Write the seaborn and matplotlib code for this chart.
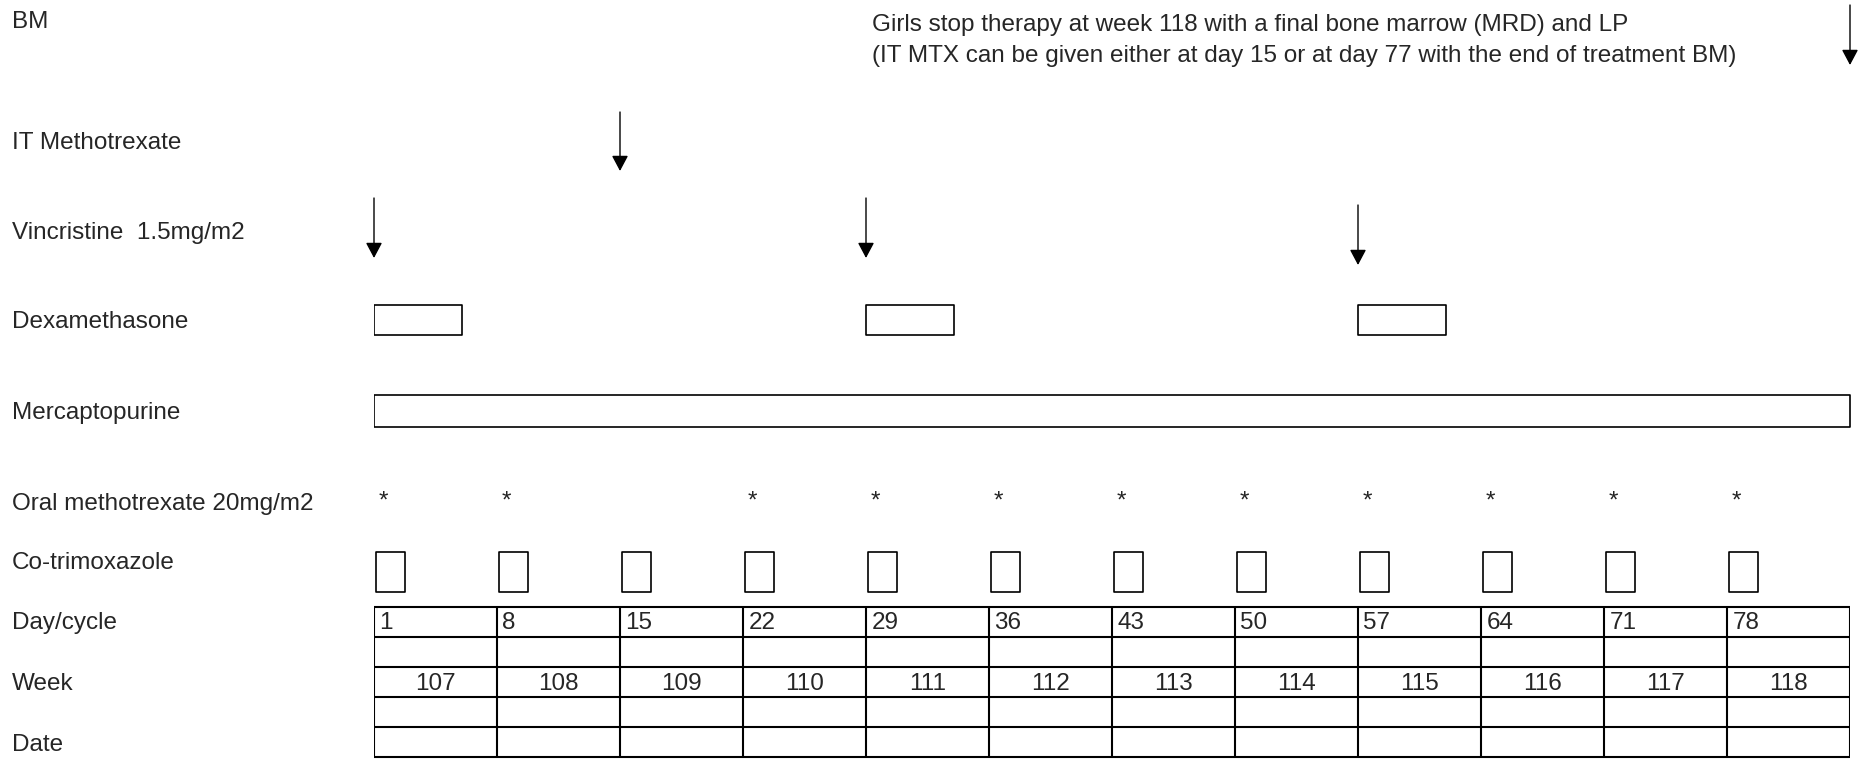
import matplotlib
matplotlib.use('Agg')
import matplotlib.pyplot as plt
import matplotlib.transforms as mtransforms
import seaborn as sns

# Schedule data (days of the cycle)
row_labels = ['BM', 'IT Methotrexate', 'Vincristine  1.5mg/m2', 'Dexamethasone',
              'Mercaptopurine', 'Oral methotrexate 20mg/m2', 'Co-trimoxazole',
              'Day/cycle', 'Week', 'Date']
bm_days = [85]
it_mtx_days = [15]
vincristine_days = [1, 29, 57]
dex_days = [1, 29, 57]
dex_length = 5
mp_start, mp_end = 1, 85
oral_mtx_days = [1, 8, 22, 29, 36, 43, 50, 57, 64, 71, 78]
cotrim_days = [1, 8, 15, 22, 29, 36, 43, 50, 57, 64, 71, 78]
cycle_days = [1, 8, 15, 22, 29, 36, 43, 50, 57, 64, 71, 78]
weeks = [107, 108, 109, 110, 111, 112, 113, 114, 115, 116, 117, 118]
note_lines = ['Girls stop therapy at week 118 with a final bone marrow (MRD) and LP',
              '(IT MTX can be given either at day 15 or at day 77 with the end of treatment BM)']

# Layout (pixel rows, measured from the top)
W, H = 1866, 763
label_y = [28, 149, 239, 328, 419, 510, 569, 629, 690, 751]
table_lines = [607, 637, 667, 697, 727, 757]

sns.set_theme(style='white')
plt.rcParams['font.family'] = ['Liberation Sans', 'DejaVu Sans']
FS = 17.5

fig = plt.figure(figsize=(W / 100, H / 100), dpi=100)
ax = fig.add_axes([374 / W, 0, (1850 - 374) / W, 1])
ax.set_xlim(1, 85)
ax.set_ylim(H, 0)
ax.axis('off')

left = mtransforms.blended_transform_factory(fig.transFigure, ax.transData)
for lab, y in zip(row_labels, label_y):
    ax.text(12 / W, y, lab, transform=left, fontsize=FS, va='baseline', ha='left')

# note at the top
for line, y in zip(note_lines, [31, 62]):
    ax.text(872 / W, y, line, transform=left, fontsize=FS, va='baseline', ha='left')


def arrow(x, y0, y1):
    ax.annotate('', xy=(x, y1), xytext=(x, y0),
                arrowprops=dict(arrowstyle='-|>,head_length=9.4,head_width=5',
                                mutation_scale=1, color='black', lw=1.0,
                                shrinkA=0, shrinkB=0),
                annotation_clip=False)


for d in bm_days:
    arrow(d, 5, 65)
for d in it_mtx_days:
    arrow(d, 112, 171)
vinc_shift = [0, 0, 7]
for d, s in zip(vincristine_days, vinc_shift):
    arrow(d, 198 + s, 258 + s)

# Dexamethasone blocks
ax.broken_barh([(d, dex_length) for d in dex_days], (305, 30),
               facecolors='white', edgecolors='black', linewidth=1.2)

# Mercaptopurine continuous bar
ax.broken_barh([(mp_start, mp_end - mp_start)], (395, 32),
               facecolors='white', edgecolors='black', linewidth=1.2)

# Oral methotrexate stars
for d in oral_mtx_days:
    ax.text(d + 0.55, label_y[5] - 2.5, '*', fontsize=FS, ha='center', va='baseline')

# Co-trimoxazole boxes
ax.broken_barh([(d + 0.1, 1.65) for d in cotrim_days], (552, 40),
               facecolors='white', edgecolors='black', linewidth=1.2)

# Table grid
col_edges = cycle_days + [mp_end]
ax.vlines(col_edges, table_lines[0], table_lines[-1], color='black', lw=1.5)
ax.hlines(table_lines, col_edges[0], col_edges[-1], color='black', lw=1.5)

for d in cycle_days:
    ax.text(d + 0.3, 629, str(d), fontsize=FS, ha='left', va='baseline')
for d, w in zip(cycle_days, weeks):
    ax.text(d + 3.5, 690, str(w), fontsize=FS, ha='center', va='baseline')

fig.savefig('out.png', dpi=100)
